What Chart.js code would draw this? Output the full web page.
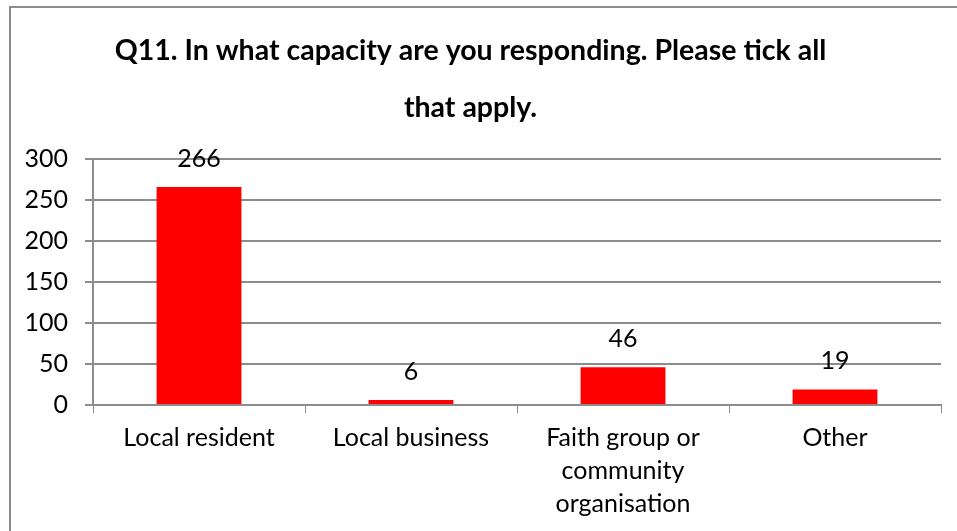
<!DOCTYPE html>
<html>
<head>
<meta charset="utf-8">
<script src="https://cdn.jsdelivr.net/npm/chart.js@4"></script>
<style>
  body { margin: 0; background: #fff; }
  #wrap { position: relative; width: 957px; height: 531px; overflow: hidden; }
  #frame { position: absolute; left: 9px; top: 6px; width: 1000px; height: 600px; border: 2px solid #8c8c8c; box-sizing: border-box; pointer-events: none; }
</style>
</head>
<body>
<div id="wrap">
  <canvas id="grafico" width="957" height="531"></canvas>
  <div id="frame"></div>
</div>
<script>
const titulo = ["Q11. In what capacity are you responding. Please tick all", "that apply."];
const categorias = ["Local resident", "Local business", ["Faith group or", "community", "organisation"], "Other"];
const respostas = [266, 6, 46, 19];
const eixoY = [0, 50, 100, 150, 200, 250, 300];

const fonte = "Lato, 'Open Sans', sans-serif";
const cinza = "#8c8c8c";

// writes each bar's value above it
const rotulos = {
  id: "rotulos",
  afterDatasetsDraw(c) {
    const ctx = c.ctx;
    ctx.save();
    ctx.font = "25px " + fonte;
    ctx.fillStyle = "#000";
    ctx.textAlign = "center";
    ctx.textBaseline = "middle";
    c.getDatasetMeta(0).data.forEach((bar, i) => {
      ctx.fillText(respostas[i], bar.x, bar.y - 28);
    });
    ctx.restore();
  }
};

new Chart(document.getElementById("grafico"), {
  type: "bar",
  data: {
    labels: categorias,
    datasets: [{
      data: respostas,
      backgroundColor: "#ff0000",
      barPercentage: 0.4,
      categoryPercentage: 1
    }]
  },
  options: {
    responsive: false,
    animation: false,
    layout: { padding: { left: 0, right: 16, top: 0, bottom: 0 } },
    plugins: {
      legend: { display: false },
      tooltip: { enabled: false },
      title: {
        display: true,
        text: titulo,
        color: "#000",
        font: { family: fonte, size: 28.5, weight: "bold", lineHeight: 2 },
        padding: { top: 22, bottom: 23 }
      }
    },
    scales: {
      x: {
        grid: { display: true, drawOnChartArea: false, color: cinza, tickLength: 8, offset: true },
        border: { color: cinza, width: 2 },
        ticks: { color: "#000", font: { family: fonte, size: 25, lineHeight: 1.32 }, padding: 8, maxRotation: 0, autoSkip: false },
        afterFit: s => { s.height = 126; }
      },
      y: {
        min: 0,
        max: 300,
        afterBuildTicks: s => { s.ticks = eixoY.map(v => ({ value: v })); },
        grid: { color: cinza, lineWidth: 2, tickLength: 8 },
        border: { color: cinza, width: 2 },
        ticks: { color: "#000", font: { family: fonte, size: 25 }, padding: 17 },
        afterFit: s => { s.width = 93; }
      }
    }
  },
  plugins: [rotulos]
});
</script>
</body>
</html>
